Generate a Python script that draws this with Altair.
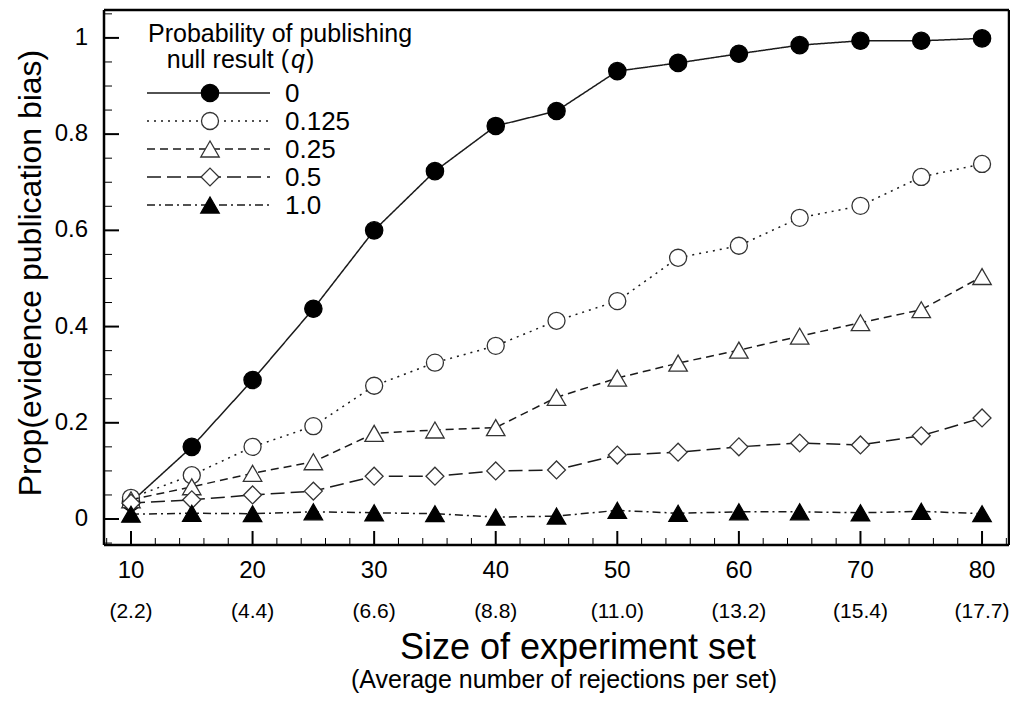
import altair as alt
import pandas as pd

# ---------------- data ----------------
set_size = [10, 15, 20, 25, 30, 35, 40, 45, 50, 55, 60, 65, 70, 75, 80]
q_labels = ["0", "0.125", "0.25", "0.5", "1.0"]

prop_q0 = [0.035, 0.150, 0.289, 0.437, 0.600, 0.723, 0.817, 0.848, 0.931, 0.948, 0.967, 0.985, 0.994, 0.994, 0.999]
prop_q0125 = [0.044, 0.091, 0.150, 0.193, 0.277, 0.325, 0.360, 0.412, 0.453, 0.543, 0.568, 0.626, 0.651, 0.711, 0.738]
prop_q025 = [0.040, 0.067, 0.095, 0.119, 0.178, 0.185, 0.190, 0.253, 0.293, 0.324, 0.351, 0.380, 0.408, 0.435, 0.504]
prop_q05 = [0.033, 0.040, 0.050, 0.058, 0.089, 0.089, 0.100, 0.102, 0.133, 0.139, 0.150, 0.158, 0.154, 0.173, 0.210]
prop_q1 = [0.010, 0.012, 0.011, 0.015, 0.013, 0.011, 0.004, 0.006, 0.018, 0.012, 0.015, 0.015, 0.013, 0.016, 0.011]

x_major_ticks = [10, 20, 30, 40, 50, 60, 70, 80]
x_tick_labels = ["10", "20", "30", "40", "50", "60", "70", "80"]
x_reject_labels = ["(2.2)", "(4.4)", "(6.6)", "(8.8)", "(11.0)", "(13.2)", "(15.4)", "(17.7)"]
x_minor_ticks = [8, 12, 14, 16, 18, 22, 24, 26, 28, 32, 34, 36, 38, 42, 44, 46, 48,
                 52, 54, 56, 58, 62, 64, 66, 68, 72, 74, 76, 78, 82]
y_major_ticks = [0, 0.2, 0.4, 0.6, 0.8, 1.0]
y_tick_labels = ["0", "0.2", "0.4", "0.6", "0.8", "1"]
y_minor_ticks = [-0.05, 0.05, 0.1, 0.15, 0.25, 0.3, 0.35, 0.45, 0.5, 0.55,
                 0.65, 0.7, 0.75, 0.85, 0.9, 0.95, 1.05]

series_values = [prop_q0, prop_q0125, prop_q025, prop_q05, prop_q1]

x_title = "Size of experiment set"
x_subtitle = "(Average number of rejections per set)"
y_title = "Prop(evidence publication bias)"

# ---------------- styles ----------------
FONT = "Liberation Sans"
W, H = 906, 535
XDOM = [7.78, 82.30]
YDOM = [-0.054, 1.058]
LINE_COLOR = "#1a1a1a"
styles = {
    "0": dict(dash=[1, 0], shape="circle", filled=True, size=300),
    "0.125": dict(dash=[2, 5], shape="circle", filled=False, size=290),
    "0.25": dict(dash=[8, 5], shape="triangle-up", filled=False, size=340),
    "0.5": dict(dash=[14, 6], shape="diamond", filled=False, size=320),
    "1.0": dict(dash=[8, 4, 2, 4], shape="triangle-up", filled=True, size=340),
}

rows = []
for q, vals in zip(q_labels, series_values):
    for s, v in zip(set_size, vals):
        rows.append({"q": q, "size": s, "prop": v})
df = pd.DataFrame(rows)

xs = alt.Scale(domain=XDOM, nice=False, zero=False)
ys = alt.Scale(domain=YDOM, nice=False, zero=False)
X = lambda: alt.X("size:Q", scale=xs, axis=None)
Y = lambda: alt.Y("prop:Q", scale=ys, axis=None)


def text_layer(t, x, y, size, align="center", baseline="alphabetic", angle=0, style="normal"):
    return alt.Chart(pd.DataFrame({"t": [t]})).mark_text(
        font=FONT, fontSize=size, color="black", align=align, baseline=baseline,
        angle=angle, fontStyle=style).encode(x=alt.value(x), y=alt.value(y), text="t:N")


def frame_rule(x1, x2, y1, y2):
    return alt.Chart(pd.DataFrame({"f": [0]})).mark_rule(color="black", strokeWidth=2.5).encode(
        x=alt.value(x1), x2=alt.value(x2), y=alt.value(y1), y2=alt.value(y2))


layers = []

# ---------------- inward ticks ----------------
xmaj = pd.DataFrame({"size": x_major_ticks, "lab": x_tick_labels, "rej": x_reject_labels})
xmin = pd.DataFrame({"size": x_minor_ticks})
ymaj = pd.DataFrame({"prop": y_major_ticks, "lab": y_tick_labels})
ymin = pd.DataFrame({"prop": y_minor_ticks})

layers.append(alt.Chart(xmaj).mark_rule(color="black", strokeWidth=2).encode(
    x=X(), y=alt.value(H), y2=alt.value(H - 14)))
layers.append(alt.Chart(xmin).mark_rule(color="black", strokeWidth=1).encode(
    x=X(), y=alt.value(H), y2=alt.value(H - 7)))
layers.append(alt.Chart(ymaj).mark_rule(color="black", strokeWidth=2).encode(
    y=Y(), x=alt.value(0), x2=alt.value(15)))
layers.append(alt.Chart(ymin).mark_rule(color="black", strokeWidth=1).encode(
    y=Y(), x=alt.value(0), x2=alt.value(8)))

# tick labels
layers.append(alt.Chart(ymaj).mark_text(font=FONT, fontSize=24, color="black", align="right", baseline="middle").encode(
    y=Y(), x=alt.value(-16), text="lab:N"))
layers.append(alt.Chart(xmaj).mark_text(font=FONT, fontSize=24, color="black", align="center", baseline="alphabetic").encode(
    x=X(), y=alt.value(568), text="lab:N"))
layers.append(alt.Chart(xmaj).mark_text(font=FONT, fontSize=21, color="black", align="center", baseline="alphabetic").encode(
    x=X(), y=alt.value(608), text="rej:N"))

# titles
layers.append(text_layer(y_title, -73, 263, 32, baseline="middle", angle=270))
layers.append(text_layer(x_title, 474, 649, 36))
layers.append(text_layer(x_subtitle, 460, 678, 25))

# ---------------- series ----------------
base = alt.Chart(df)
for q in q_labels:
    st = styles[q]
    sub = base.transform_filter(alt.datum.q == q)
    layers.append(sub.mark_line(color=LINE_COLOR, strokeWidth=1.5, strokeDash=st["dash"]).encode(x=X(), y=Y()))
    layers.append(sub.mark_point(
        shape=st["shape"], size=st["size"], filled=True,
        fill="black" if st["filled"] else "white",
        stroke="black" if st["filled"] else "#333333",
        strokeWidth=1.3, opacity=1,
    ).encode(x=X(), y=Y()))

# ---------------- legend ----------------
LX0, LX1, LXM, LXT = 43, 166, 106, 181
row_y = [83, 111, 139, 167, 195]
layers.append(text_layer("Probability of publishing", 44, 32, 25, align="left"))
layers.append(text_layer("null result (", 185, 58, 25, align="right"))
layers.append(text_layer("q", 187, 58, 25, align="left", style="italic"))
layers.append(text_layer(")", 202, 58, 25, align="left"))
for q, ry in zip(q_labels, row_y):
    st = styles[q]
    ldf = pd.DataFrame({"q": [q]})
    layers.append(alt.Chart(ldf).mark_rule(color=LINE_COLOR, strokeWidth=1.5, strokeDash=st["dash"]).encode(
        x=alt.value(LX0), x2=alt.value(LX1), y=alt.value(ry)))
    layers.append(alt.Chart(ldf).mark_point(
        shape=st["shape"], size=st["size"], filled=True,
        fill="black" if st["filled"] else "white",
        stroke="black" if st["filled"] else "#333333", strokeWidth=1.3, opacity=1).encode(
        x=alt.value(LXM), y=alt.value(ry)))
    layers.append(alt.Chart(ldf).mark_text(font=FONT, fontSize=26, color="black", align="left", baseline="middle").encode(
        x=alt.value(LXT), y=alt.value(ry + 1), text="q:N"))

# plot frame (four sides)
layers.append(frame_rule(0, W - 1, 0, 0))
layers.append(frame_rule(0, W - 1, H, H))
layers.append(frame_rule(0, 0, 0, H))
layers.append(frame_rule(W - 1, W - 1, 0, H))

chart = alt.layer(*layers).properties(
    width=W, height=H,
    background="white",
    autosize=alt.AutoSizeParams(type="none"),
    padding={"left": 96, "top": 2, "right": 0, "bottom": 148},
).configure_view(stroke=None)

chart.save("out.html", embed_options={"renderer": "svg", "actions": False})
